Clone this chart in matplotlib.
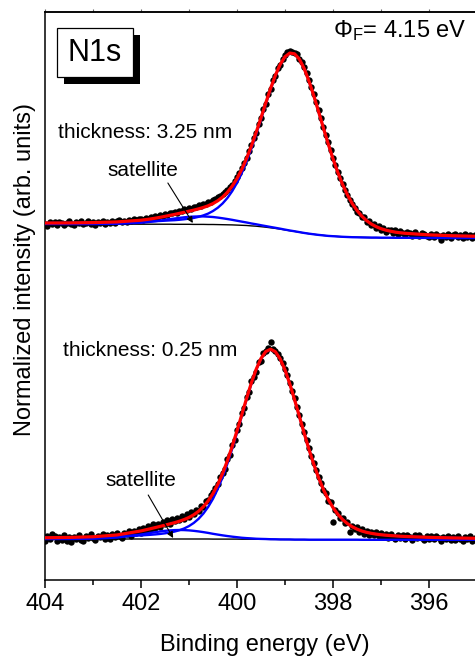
import matplotlib
matplotlib.use('Agg')
import matplotlib.pyplot as plt
import matplotlib.patches as patches
import numpy as np

plt.rcParams['font.family'] = ['Liberation Sans', 'DejaVu Sans']
plt.rcParams['mathtext.fontset'] = 'custom'
plt.rcParams['mathtext.rm'] = 'Liberation Sans'
plt.rcParams['mathtext.it'] = 'Liberation Sans:italic'
plt.rcParams['mathtext.bf'] = 'Liberation Sans:bold'

# measured N1s spectra (arb. units), 0.05 eV steps from 404 eV down to 395 eV
energy = np.linspace(404.0, 395.0, 181)

thick_data = [
    355.8, 353.9, 357.6, 356.4, 358.3, 355.2, 357.9, 356.8, 354.6, 357.3,
    358.6, 356.0, 354.9, 357.8, 356.7, 358.9, 355.6, 357.2, 359.1, 356.3,
    357.9, 355.4, 358.2, 357.0, 359.0, 356.1, 358.5, 357.3, 359.4, 356.9,
    358.8, 360.0, 357.6, 359.5, 358.2, 360.4, 358.9, 361.0, 359.6, 360.9,
    361.3, 360.2, 362.4, 361.1, 363.0, 361.9, 364.1, 362.8, 365.0, 364.2,
    366.3, 365.1, 367.4, 366.6, 368.5, 367.3, 369.4, 368.9, 370.6, 369.8,
    371.9, 371.2, 373.4, 372.6, 374.8, 374.1, 376.2, 376.0, 377.9, 378.3,
    379.8, 380.9, 382.6, 384.2, 385.9, 387.6, 389.8, 392.6, 395.4, 398.9,
    402.6, 407.0, 411.9, 417.3, 422.4, 428.9, 434.6, 441.9, 447.3, 456.0,
    461.6, 470.8, 476.4, 485.9, 490.7, 499.6, 504.1, 511.8, 514.9, 521.4,
    524.6, 527.8, 528.9, 528.2, 527.4, 525.9, 521.3, 518.1, 512.6, 507.2,
    500.4, 493.5, 485.8, 478.0, 469.9, 461.7, 453.5, 445.1, 437.6, 429.9,
    422.0, 415.3, 408.4, 402.2, 395.6, 390.4, 384.9, 380.2, 375.8, 371.6,
    368.2, 367.3, 362.6, 362.7, 358.1, 358.9, 354.6, 355.8, 352.0, 353.9,
    349.8, 352.4, 348.3, 350.1, 349.6, 347.0, 349.9, 346.4, 348.8, 347.5,
    345.2, 347.9, 346.6, 344.1, 347.8, 345.0, 343.8, 346.7, 345.9, 343.6,
    343.5, 345.9, 342.6, 346.2, 344.0, 340.3, 345.4, 343.2, 346.0, 342.4,
    344.9, 346.1, 342.8, 344.6, 341.9, 345.7, 343.3, 345.1, 342.1, 344.8,
    343.0]

thin_data = [
    39.5, 44.1, 41.2, 45.6, 43.8, 38.7, 42.9, 40.1, 44.7, 39.3,
    42.6, 38.2, 43.5, 41.0, 45.2, 40.4, 38.9, 43.9, 41.7, 45.9,
    42.1, 39.6, 44.3, 42.8, 46.4, 41.5, 44.9, 40.8, 46.1, 43.3,
    47.5, 44.2, 42.0, 47.3, 45.6, 49.4, 44.5, 48.7, 46.9, 50.8,
    47.4, 52.3, 49.0, 53.9, 51.2, 55.6, 51.8, 56.4, 53.1, 58.2,
    55.7, 59.6, 56.4, 61.1, 58.8, 62.5, 59.9, 63.7, 61.2, 65.6,
    63.4, 67.8, 66.0, 70.4, 69.5, 74.1, 73.0, 78.9, 80.2, 84.6,
    87.9, 91.8, 96.3, 103.0, 107.5, 111.4, 120.6, 125.2, 134.8, 140.1,
    150.3, 156.0, 166.7, 172.5, 183.0, 187.9, 198.6, 202.9, 208.1, 217.8,
    219.3, 227.0, 229.5, 231.6, 238.2, 231.4, 229.0, 226.5, 222.4, 217.2,
    211.5, 204.6, 197.3, 189.5, 181.6, 173.2, 164.8, 156.3, 148.1, 139.8,
    131.9, 124.2, 116.9, 109.9, 103.5, 97.4, 90.1, 86.8, 79.3, 77.6,
    58.5, 70.1, 66.9, 61.7, 62.4, 57.0, 57.8, 47.9, 54.1, 50.6,
    52.7, 48.3, 50.9, 46.4, 49.2, 44.6, 48.3, 45.1, 47.6, 43.8,
    46.9, 42.7, 45.8, 41.9, 46.3, 43.0, 40.6, 45.4, 42.2, 44.9,
    41.3, 45.2, 42.7, 39.8, 44.6, 41.9, 45.0, 42.4, 40.1, 44.2,
    41.5, 43.8, 40.7, 44.5, 42.0, 38.6, 43.4, 41.2, 44.1, 40.3,
    42.8, 39.7, 43.6, 41.4, 38.9, 43.0, 40.9, 44.0, 39.5, 42.3,
    41.0]

# fit components: Shirley background, main N1s peak, satellite
fit_energy = [404.0, 403.5, 403.0, 402.5,
              402.0, 401.9, 401.8, 401.7, 401.6, 401.5, 401.4, 401.3, 401.2, 401.1,
              401.0, 400.9, 400.8, 400.7, 400.6, 400.5, 400.4, 400.3, 400.2, 400.1,
              400.0, 399.9, 399.8, 399.7, 399.6, 399.5, 399.4, 399.3, 399.2, 399.1,
              399.0, 398.9, 398.8, 398.7, 398.6, 398.5, 398.4, 398.3, 398.2, 398.1,
              398.0, 397.9, 397.8, 397.7, 397.6, 397.5, 397.4, 397.3, 397.2, 397.1,
              397.0, 396.9, 396.8, 396.7, 396.6, 396.5,
              396.0, 395.5, 395.0, 394.5]

thick_bg = [356.0, 355.9, 355.9, 355.9,
            355.8, 355.8, 355.8, 355.8, 355.8, 355.8, 355.8, 355.7, 355.7, 355.7,
            355.7, 355.6, 355.6, 355.6, 355.5, 355.5, 355.4, 355.3, 355.2, 355.1,
            354.9, 354.7, 354.5, 354.1, 353.8, 353.3, 352.8, 352.2, 351.6, 350.9,
            350.1, 349.3, 348.6, 347.8, 347.0, 346.3, 345.7, 345.1, 344.6, 344.1,
            343.8, 343.5, 343.2, 343.0, 342.8, 342.7, 342.6, 342.5, 342.4, 342.4,
            342.3, 342.3, 342.3, 342.2, 342.2, 342.2,
            342.1, 342.0, 342.0, 342.0]
thick_main = [0.97, 1.19, 1.48, 1.90,
              2.51, 2.67, 2.84, 3.03, 3.24, 3.51, 3.79, 4.12, 4.53, 5.03,
              5.66, 6.48, 7.57, 9.01, 10.93, 13.49, 16.86, 21.24, 26.79, 33.73,
              42.20, 52.33, 64.12, 77.45, 92.04, 107.46, 123.23, 138.56, 152.55, 164.35,
              172.91, 177.43, 177.43, 172.91, 164.35, 152.55, 138.56, 123.23, 107.46, 92.04,
              77.45, 64.12, 52.33, 42.20, 33.73, 26.79, 21.24, 16.86, 13.49, 10.93,
              9.01, 7.57, 6.48, 5.66, 5.03, 4.53,
              3.03, 2.23, 1.71, 1.35]
thick_sat = [0.0, 0.0, 0.03, 0.29,
             1.47, 1.91, 2.42, 3.01, 3.66, 4.35, 5.06, 5.77, 6.42, 7.01,
             7.48, 7.81, 7.98, 7.98, 7.81, 7.48, 7.01, 6.42, 5.77, 5.06,
             4.35, 3.66, 3.01, 2.42, 1.91, 1.47, 1.11, 0.82, 0.59, 0.42,
             0.29, 0.20, 0.13, 0.08, 0.05, 0.03, 0.0, 0.0, 0.0, 0.0,
             0.0, 0.0, 0.0, 0.0, 0.0, 0.0, 0.0, 0.0, 0.0, 0.0,
             0.0, 0.0, 0.0, 0.0, 0.0, 0.0,
             0.0, 0.0, 0.0, 0.0]

thin_bg = [41.0, 41.0, 41.0, 41.0,
           41.0, 41.0, 41.0, 41.0, 41.0, 41.0, 41.0, 41.0, 41.0, 41.0,
           41.0, 41.0, 41.0, 41.0, 41.0, 40.9, 40.9, 40.9, 40.9, 40.9,
           40.9, 40.8, 40.8, 40.8, 40.7, 40.7, 40.7, 40.6, 40.6, 40.5,
           40.5, 40.5, 40.4, 40.4, 40.4, 40.3, 40.3, 40.3, 40.3, 40.3,
           40.3, 40.3, 40.3, 40.3, 40.3, 40.3, 40.2, 40.2, 40.2, 40.2,
           40.2, 40.2, 40.2, 40.2, 40.2, 40.2,
           40.2, 40.2, 40.2, 40.2]
thin_main = [1.24, 1.54, 1.97, 2.60,
             3.57, 3.90, 4.22, 4.60, 5.07, 5.68, 6.46, 7.45, 8.78, 10.56,
             12.94, 16.07, 20.18, 25.46, 32.11, 40.32, 50.24, 61.94, 75.37, 90.31,
             106.38, 123.12, 139.82, 155.59, 169.50, 180.48, 187.55, 190.00, 187.55, 180.48,
             169.50, 155.59, 139.82, 123.12, 106.38, 90.31, 75.37, 61.94, 50.24, 40.32,
             32.11, 25.46, 20.18, 16.07, 12.94, 10.56, 8.78, 7.45, 6.46, 5.68,
             5.07, 4.60, 4.22, 3.90, 3.57, 3.34,
             2.45, 1.88, 1.48, 1.20]
thin_sat = [0.0, 0.03, 0.27, 1.44,
            4.50, 5.29, 6.09, 6.87, 7.57, 8.16, 8.62, 8.90, 9.00, 8.90,
            8.62, 8.16, 7.57, 6.87, 6.09, 5.29, 4.50, 3.74, 3.05, 2.43,
            1.89, 1.44, 1.08, 0.79, 0.56, 0.39, 0.27, 0.18, 0.12, 0.08,
            0.05, 0.03, 0.0, 0.0, 0.0, 0.0, 0.0, 0.0, 0.0, 0.0,
            0.0, 0.0, 0.0, 0.0, 0.0, 0.0, 0.0, 0.0, 0.0, 0.0,
            0.0, 0.0, 0.0, 0.0, 0.0, 0.0,
            0.0, 0.0, 0.0, 0.0]

W, H = 475, 659
fig = plt.figure(figsize=(W / 100, H / 100), dpi=100)
ax = fig.add_axes([45 / W, 79 / H, 480 / W, 568 / H])


def draw(data, bg, main, sat):
    bg = np.array(bg)
    main = np.array(main)
    sat = np.array(sat)
    ax.plot(energy, data, 'o', color='black', ms=4.6, mew=0, zorder=2)
    ax.plot(fit_energy, bg, color='black', lw=1.0, zorder=3)
    ax.plot(fit_energy, bg + sat, color='blue', lw=1.7, zorder=4)
    ax.plot(fit_energy, bg + main, color='blue', lw=1.7, zorder=4)
    ax.plot(fit_energy, bg + main + sat, color='red', lw=2.3, zorder=5)


draw(thick_data, thick_bg, thick_main, thick_sat)
draw(thin_data, thin_bg, thin_main, thin_sat)

ax.set_xlim(404, 394)
ax.set_ylim(0, 568)
ax.set_yticks([])
ax.set_xticks([404, 402, 400, 398, 396])
ax.set_xticks([403, 401, 399, 397, 395], minor=True)
ax.tick_params(axis='x', which='major', direction='out', length=6, width=1.1,
               labelsize=17, pad=3)
ax.tick_params(axis='x', which='minor', direction='out', length=3.5, width=1.1)
for s in ax.spines.values():
    s.set_linewidth(1.1)

top = ax.secondary_xaxis('top')
top.set_xticks([404, 402, 400, 398, 396])
top.set_xticks([403, 401, 399, 397, 395], minor=True)
top.tick_params(which='both', direction='out', length=2.5, width=0.8,
                labeltop=False, colors='0.4')
top.spines['top'].set_linewidth(1.1)

# labels
fig.text(265 / W, 1 - 645 / H, 'Binding energy (eV)', fontsize=17,
         ha='center', va='center')
fig.text(25 / W, 1 - 270 / H, 'Normalized intensity (arb. units)', fontsize=17,
         ha='center', va='center', rotation=90)

ax.text(403.73, 448, 'thickness: 3.25 nm', fontsize=15, ha='left', va='center')
ax.text(403.63, 229, 'thickness: 0.25 nm', fontsize=15, ha='left', va='center')
ax.text(401.96, 409, 'satellite', fontsize=15, ha='center', va='center')
ax.text(402.0, 100, 'satellite', fontsize=15, ha='center', va='center')
arrow = dict(arrowstyle='-|>', lw=0.8, color='black', shrinkA=0, shrinkB=0,
             mutation_scale=9)
ax.annotate('', xy=(400.92, 357), xytext=(401.44, 397), arrowprops=arrow, zorder=6)
ax.annotate('', xy=(401.33, 42), xytext=(401.85, 85), arrowprops=arrow, zorder=6)

# N1s label box with drop shadow
fig.add_artist(patches.Rectangle((64 / W, 1 - 84 / H), 76 / W, 49 / H,
                                 transform=fig.transFigure, facecolor='black',
                                 edgecolor='black', lw=0))
fig.add_artist(patches.Rectangle((57 / W, 1 - 77 / H), 76 / W, 49 / H,
                                 transform=fig.transFigure, facecolor='white',
                                 edgecolor='black', lw=0.9))
fig.text(95 / W, 1 - 53 / H, 'N1s', fontsize=22, ha='center', va='center')

fig.text(333 / W, 1 - 37 / H, r'$\mathrm{\Phi}_\mathrm{F}$= 4.15 eV', fontsize=17,
         ha='left', va='baseline')

fig.savefig('out.png', dpi=100)
